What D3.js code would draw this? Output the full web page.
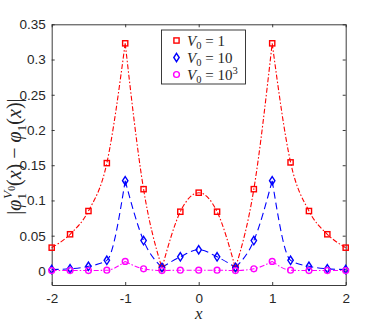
<!DOCTYPE html>
<html>
<head>
<meta charset="utf-8">
<script src="https://cdn.jsdelivr.net/npm/d3@7"></script>
<style>
  html, body { margin: 0; padding: 0; background: #fff; }
  svg { display: block; }
</style>
</head>
<body>
<div id="chart"></div>
<script>
// Sample positions along x
const xValues = [-2, -1.75, -1.5, -1.25, -1, -0.75, -0.5, -0.25, 0, 0.25, 0.5, 0.75, 1, 1.25, 1.5, 1.75, 2];

// |phi_1^{V0}(x) - phi_1(x)| for each V0
const errV1 = [0.033, 0.052, 0.085, 0.153, 0.323, 0.116, 0.004, 0.084, 0.111, 0.084, 0.004, 0.116, 0.323, 0.154, 0.085, 0.052, 0.033];
const errV10 = [0.002, 0.003, 0.0065, 0.015, 0.128, 0.043, 0.005, 0.020, 0.030, 0.020, 0.005, 0.043, 0.128, 0.015, 0.0065, 0.003, 0.002];
const errV1000 = [0.0005, 0.0005, 0.0005, 0.001, 0.0135, 0.003, 0.0005, 0.001, 0.001, 0.001, 0.0005, 0.003, 0.0135, 0.001, 0.0005, 0.0005, 0.0005];

const xTicks = [-2, -1, 0, 1, 2];
const yTicks = [0, 0.05, 0.1, 0.15, 0.2, 0.25, 0.3, 0.35];

const series = [
  {key: 'v1', values: errV1, color: '#ff0000', dash: '5,2,1.5,2', marker: 'square', sup: null, label: '1', cusps: [-1, -0.5, 0.5, 1]},
  {key: 'v10', values: errV10, color: '#0000ff', dash: '7,4', marker: 'diamond', sup: null, label: '10', cusps: [-1, -0.5, 0.5, 1]},
  {key: 'v1000', values: errV1000, color: '#ff00ff', dash: '5,2,1.5,2', marker: 'circle', sup: '3', label: '10', cusps: [-1, 1]}
];

const width = 382, height = 327;
const margin = {top: 24.3, right: 36.3, bottom: 42, left: 51.7};
const axisColor = '#262626';

const svg = d3.select('#chart').append('svg')
  .attr('width', width)
  .attr('height', height);

const x = d3.scaleLinear()
  .domain([-2, 2])
  .range([margin.left, width - margin.right]);

const y = d3.scaleLinear()
  .domain([-0.02, 0.35])
  .range([height - margin.bottom, margin.top]);

// axes with inward ticks, box on
const fmt = d => d === 0 ? '0' : String(d);

svg.append('g')
  .attr('transform', `translate(0, ${y.range()[0]})`)
  .call(d3.axisBottom(x).tickValues(xTicks).tickFormat(fmt).tickSizeInner(-3).tickSizeOuter(0).tickPadding(8))
  .call(g => g.selectAll('text').attr('font-size', '13.5px').attr('font-family', 'Liberation Sans, Arial, sans-serif').attr('fill', axisColor));

svg.append('g')
  .attr('transform', `translate(0, ${y.range()[1]})`)
  .call(d3.axisTop(x).tickValues(xTicks).tickFormat('').tickSizeInner(-3).tickSizeOuter(0));

svg.append('g')
  .attr('transform', `translate(${x.range()[0]}, 0)`)
  .call(d3.axisLeft(y).tickValues(yTicks).tickFormat(fmt).tickSizeInner(-3).tickSizeOuter(0).tickPadding(6))
  .call(g => g.selectAll('text').attr('font-size', '13.5px').attr('font-family', 'Liberation Sans, Arial, sans-serif').attr('fill', axisColor));

svg.append('g')
  .attr('transform', `translate(${x.range()[1]}, 0)`)
  .call(d3.axisRight(y).tickValues(yTicks).tickFormat('').tickSizeInner(-3).tickSizeOuter(0));

svg.selectAll('.domain').attr('stroke', axisColor).attr('stroke-width', 0.9);
svg.selectAll('.tick line').attr('stroke', axisColor).attr('stroke-width', 0.9);

const plotG = svg.append('g');

const line = d3.line()
  .x(d => x(d[0]))
  .y(d => y(d[1]))
  .curve(d3.curveMonotoneX);

// split each series at its cusps so peaks stay sharp
function pieces(s) {
  const pts = xValues.map((xv, i) => [xv, s.values[i]]);
  const out = [];
  let cur = [];
  pts.forEach(p => {
    cur.push(p);
    if (s.cusps.includes(p[0])) {
      out.push(cur);
      cur = [p];
    }
  });
  if (cur.length > 1) out.push(cur);
  return out;
}

series.forEach(s => {
  plotG.append('path')
    .attr('d', pieces(s).map(seg => line(seg)).join(''))
    .attr('fill', 'none')
    .attr('stroke', s.color)
    .attr('stroke-width', 1.1)
    .attr('stroke-dasharray', s.dash);
});

function drawMarker(g, type, cx, cy, color) {
  if (type === 'square') {
    g.append('rect')
      .attr('x', cx - 2.6).attr('y', cy - 2.6)
      .attr('width', 5.2).attr('height', 5.2)
      .attr('fill', 'none').attr('stroke', color).attr('stroke-width', 1.4);
  } else if (type === 'diamond') {
    g.append('path')
      .attr('d', `M${cx},${cy - 4.2}L${cx + 2.7},${cy}L${cx},${cy + 4.2}L${cx - 2.7},${cy}Z`)
      .attr('fill', 'none').attr('stroke', color).attr('stroke-width', 1.4);
  } else {
    g.append('circle')
      .attr('cx', cx).attr('cy', cy).attr('r', 2.9)
      .attr('fill', 'none').attr('stroke', color).attr('stroke-width', 1.4);
  }
}

series.forEach(s => {
  xValues.forEach((xv, i) => drawMarker(plotG, s.marker, x(xv), y(s.values[i]), s.color));
});

// legend
const leg = svg.append('g');
leg.append('rect')
  .attr('x', 161.5).attr('y', 30)
  .attr('width', 84).attr('height', 54)
  .attr('fill', '#fff').attr('stroke', axisColor).attr('stroke-width', 0.9);

series.forEach((s, i) => {
  const ly = 40.5 + i * 17;
  drawMarker(leg, s.marker, 176.5, ly, s.color);
  const t = leg.append('text')
    .attr('x', 187)
    .attr('y', ly + 5)
    .attr('font-family', 'Liberation Serif, Times New Roman, serif')
    .attr('font-size', '15px')
    .attr('fill', axisColor);
  t.append('tspan').attr('font-style', 'italic').text('V');
  t.append('tspan').attr('font-size', '10.5px').attr('dy', 3).text('0');
  t.append('tspan').attr('dy', -3).text(' = ' + s.label);
  if (s.sup) t.append('tspan').attr('font-size', '10.5px').attr('dy', -6).text(s.sup);
});

// x label
svg.append('text')
  .attr('x', x(0))
  .attr('y', 319)
  .attr('text-anchor', 'middle')
  .attr('font-family', 'Liberation Serif, Times New Roman, serif')
  .attr('font-style', 'italic')
  .attr('font-size', '17px')
  .attr('fill', axisColor)
  .text('x');

// y label
const yl = svg.append('text')
  .attr('transform', `translate(21, ${(y.range()[0] + y.range()[1]) / 2 + 2}) rotate(-90)`)
  .attr('text-anchor', 'middle')
  .attr('font-family', 'Liberation Serif, Times New Roman, serif')
  .attr('font-size', '20px')
  .attr('fill', axisColor);
yl.append('tspan').text('|');
yl.append('tspan').attr('font-style', 'italic').text('φ');
yl.append('tspan').attr('font-size', '13.5px').attr('dy', 5).text('1');
yl.append('tspan').attr('font-size', '13.5px').attr('font-style', 'italic').attr('dx', -6).attr('dy', -14).text('V');
yl.append('tspan').attr('font-size', '9.5px').attr('dy', 3).text('0');
yl.append('tspan').attr('dy', 6).text('(');
yl.append('tspan').attr('font-style', 'italic').text('x');
yl.append('tspan').text(') − ');
yl.append('tspan').attr('font-style', 'italic').text('φ');
yl.append('tspan').attr('font-size', '13.5px').attr('dy', 5).text('1');
yl.append('tspan').attr('dy', -5).text('(');
yl.append('tspan').attr('font-style', 'italic').text('x');
yl.append('tspan').text(')|');
</script>
</body>
</html>
